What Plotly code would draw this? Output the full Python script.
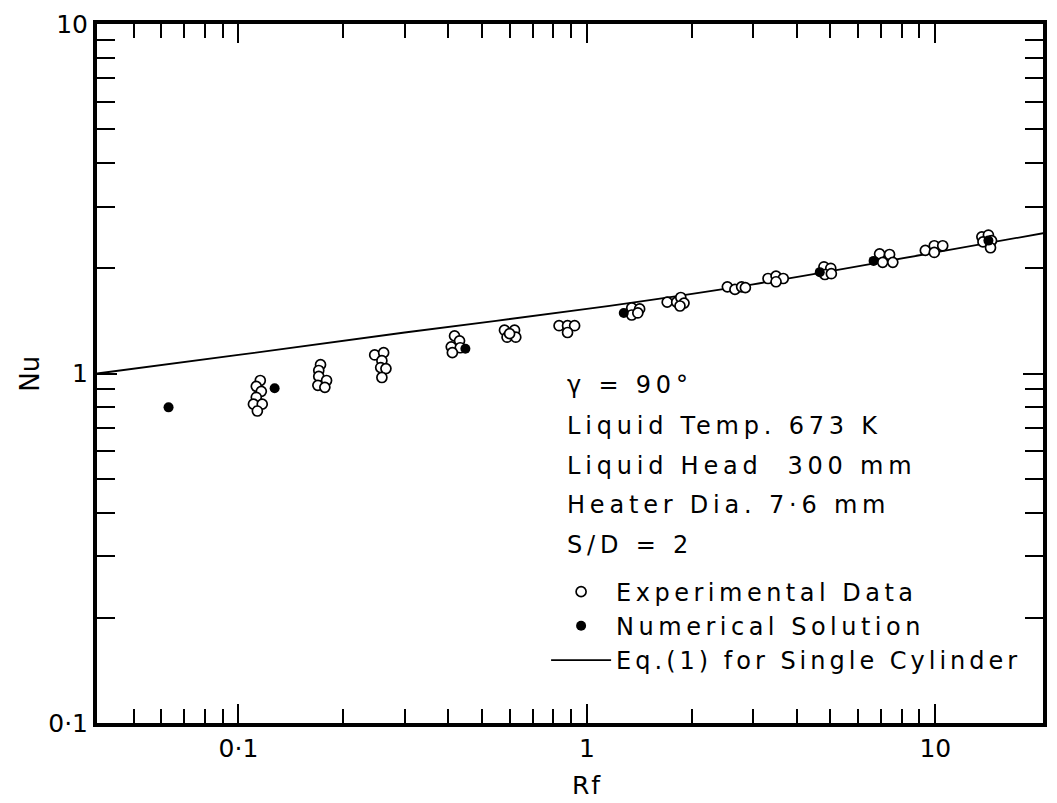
import plotly.graph_objects as go

# ---- data ----
exp_rf = [0.1155, 0.1125, 0.1163, 0.1125, 0.1104, 0.117, 0.1133,
          0.172, 0.170, 0.170, 0.179, 0.169, 0.177,
          0.246, 0.261, 0.258, 0.256, 0.265, 0.258,
          0.417, 0.431, 0.408, 0.433, 0.411,
          0.58, 0.62, 0.59, 0.625, 0.60,
          0.832, 0.88, 0.922, 0.88,
          1.345, 1.417, 1.345, 1.40,
          1.70, 1.81, 1.86, 1.90, 1.85,
          2.53, 2.66, 2.78, 2.85,
          3.31, 3.49, 3.66, 3.49,
          4.79, 5.01, 4.82, 5.03,
          6.92, 7.39, 7.06, 7.55,
          9.36, 9.93, 10.5, 9.93,
          13.6, 14.2, 14.5, 13.7, 14.4]
exp_nu = [0.955, 0.919, 0.889, 0.855, 0.817, 0.817, 0.781,
          1.06, 1.02, 0.981, 0.955, 0.925, 0.913,
          1.13, 1.147, 1.088, 1.04, 1.033, 0.974,
          1.281, 1.24, 1.192, 1.185, 1.147,
          1.33, 1.33, 1.27, 1.27, 1.30,
          1.37, 1.37, 1.37, 1.31,
          1.54, 1.53, 1.47, 1.49,
          1.60, 1.60, 1.65, 1.59, 1.56,
          1.77, 1.74, 1.77, 1.76,
          1.87, 1.90, 1.87, 1.83,
          2.02, 2.00, 1.92, 1.93,
          2.20, 2.19, 2.08, 2.08,
          2.25, 2.32, 2.32, 2.22,
          2.46, 2.49, 2.40, 2.38, 2.29]

num_rf = [0.063, 0.127, 0.448, 1.276, 4.66, 6.65, 14.2]
num_nu = [0.80, 0.907, 1.177, 1.49, 1.95, 2.10, 2.40]

eq_rf = [0.0393, 0.1, 0.3, 1.0, 3.0, 10.0, 20.4]
eq_nu = [1.00, 1.13, 1.31, 1.53, 1.80, 2.22, 2.52]

major_vals = [0.1, 1, 10]
major_text = ["0·1", "1", "10"]
x_minor = [0.05, 0.06, 0.07, 0.08, 0.09, 0.2, 0.3, 0.4, 0.5, 0.6, 0.7, 0.8, 0.9,
           2, 3, 4, 5, 6, 7, 8, 9]
y_minor = [0.2, 0.3, 0.4, 0.5, 0.6, 0.7, 0.8, 0.9, 2, 3, 4, 5, 6, 7, 8, 9]

info_lines = ["γ = 90°", "Liquid Temp. 673 K", "Liquid Head  300 mm",
              "Heater Dia. 7·6 mm", "S/D = 2"]
legend_names = ["Experimental Data", "Numerical Solution", "Eq.(1) for Single Cylinder"]

FONT = "DejaVu Sans"
W, H = 1057, 803
L, R, T, B = 97, 10, 17, 80
pw, ph = W - L - R, H - T - B


def sp(s, ls=4.5):
    return f'<span style="letter-spacing:{ls}px">{s}</span>'


fig = go.Figure()
fig.add_trace(go.Scatter(x=eq_rf, y=eq_nu, mode="lines", name=sp(legend_names[2], 4.0),
                         line=dict(color="black", width=1.8, shape="spline"),
                         legendrank=3))
fig.add_trace(go.Scatter(x=exp_rf, y=exp_nu, mode="markers", name=sp(legend_names[0]),
                         marker=dict(symbol="circle", size=10, color="white",
                                     line=dict(color="black", width=1.7)),
                         legendrank=1))
fig.add_trace(go.Scatter(x=num_rf, y=num_nu, mode="markers", name=sp(legend_names[1]),
                         marker=dict(symbol="circle", size=10, color="black",
                                     line=dict(color="black", width=0)),
                         legendrank=2))

axis_common = dict(type="log", showgrid=False, zeroline=False, showline=True,
                   linecolor="black", linewidth=4, mirror="ticks",
                   ticks="inside", tickwidth=2, tickcolor="black",
                   tickmode="array", tickvals=major_vals, ticktext=major_text,
                   tickfont=dict(family=FONT, size=25, color="black"))

fig.update_xaxes(**axis_common, range=[-1.406, 1.309], ticklen=19,
                 minor=dict(tickmode="array", tickvals=x_minor, ticks="inside",
                            ticklen=14, tickwidth=2, tickcolor="black", showgrid=False))
fig.update_yaxes(**axis_common, range=[-1, 1], ticklen=20,
                 minor=dict(tickmode="array", tickvals=y_minor, ticks="inside",
                            ticklen=18, tickwidth=2, tickcolor="black", showgrid=False))

ann = []
ann.append(dict(text="Nu", x=(29 - L) / pw, y=0.5, xref="paper", yref="paper",
                textangle=-90, showarrow=False, xanchor="center", yanchor="middle",
                font=dict(family=FONT, size=26, color="black")))
ann.append(dict(text=sp("Rf", 2), x=(589 - L) / pw, y=(H - B - 786) / ph, xref="paper",
                yref="paper", showarrow=False, xanchor="center", yanchor="middle",
                font=dict(family=FONT, size=25, color="black")))
line_y = [382, 423, 463, 503, 543]
for txt, yy in zip(info_lines, line_y):
    ann.append(dict(text=sp(txt, 4.8), x=(567 - L) / pw, y=(H - B - yy) / ph,
                    xref="paper", yref="paper", showarrow=False,
                    xanchor="left", yanchor="middle",
                    font=dict(family=FONT, size=24, color="black")))

fig.update_layout(
    width=W, height=H, margin=dict(l=L, r=R, t=T, b=B),
    paper_bgcolor="white", plot_bgcolor="white",
    annotations=ann,
    showlegend=True,
    legend=dict(x=(548 - L) / pw, y=(H - B - 568) / ph, xanchor="left", yanchor="top",
                bgcolor="rgba(0,0,0,0)", borderwidth=0,
                font=dict(family=FONT, size=24, color="black"),
                itemwidth=60, tracegroupgap=0),
)

fig.write_html("out.html")
